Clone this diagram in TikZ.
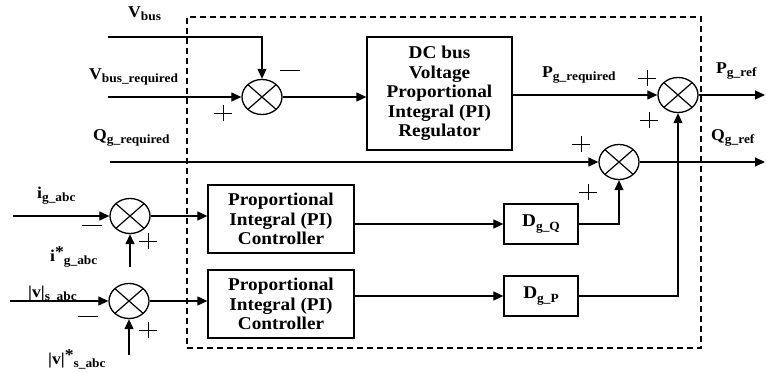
\documentclass[tikz,border=0pt]{standalone}
\usepackage{fontspec}
\setmainfont{Liberation Serif}[FakeStretch=1.07]
\usetikzlibrary{arrows.meta,shapes.geometric,calc}
\newcommand{\mainsz}{\fontsize{16.5}{18}\selectfont}
\newcommand{\subsz}{\fontsize{12.5}{14}\selectfont}
\newcommand{\boxsz}{\fontsize{18}{19.5}\selectfont}
\newcommand{\lbl}[2]{{\mainsz #1}\raisebox{-3.5pt}{\subsz #2}}
\newcommand{\lbls}[2]{{\mainsz #1}\raisebox{4pt}{\mainsz *}\raisebox{-3.5pt}{\subsz #2}}
\newcommand{\lblD}[2]{{\boxsz #1}\raisebox{-3.5pt}{\subsz #2}}
\tikzset{
  sig/.style={line width=1.2pt},
  arr/.style={sig,-{Triangle[length=10pt,width=9pt]}},
  blk/.style={draw,line width=1.3pt,align=center,inner sep=0pt,font=\bfseries\boxsz},
  sum/.style={ellipse,draw,line width=1.3pt,minimum width=40pt,minimum height=35pt,inner sep=0pt,
    path picture={\draw[line width=1.2pt] (path picture bounding box.north west) -- (path picture bounding box.south east)
      (path picture bounding box.north east) -- (path picture bounding box.south west);}},
  lab/.style={anchor=base west,inner sep=0pt,font=\bfseries},
  plus/.pic={\draw[line width=0.9pt] (-9,0) -- (9,0) (0,-8) -- (0,8);},
  minus/.pic={\draw[line width=0.9pt] (-10,0) -- (10,0);}
}
\begin{document}
\begin{tikzpicture}[x=1pt,y=-1pt]
\useasboundingbox (0,0) rectangle (766,372);
% frame
\node[draw,line width=1.1pt,dash pattern=on 6pt off 4pt,minimum width=514pt,minimum height=331pt,inner sep=0pt] (frame) at (444,182.5) {};
% summing junctions
\node[sum] (s1) at (262,97) {};
\node[sum] (s3) at (678,95) {};
\node[sum] (s2) at (619,162) {};
\node[sum] (s4) at (130,216) {};
\node[sum] (s5) at (129,301) {};
% blocks
\node[blk,minimum width=145pt,minimum height=113pt] (dc) at (439.5,93.5) {DC bus\\Voltage\\Proportional\\Integral (PI)\\Regulator};
\node[blk,minimum width=146pt,minimum height=68pt] (pi1) at (281,219) {Proportional\\Integral (PI)\\Controller};
\node[blk,minimum width=146pt,minimum height=68pt] (pi2) at (281,304) {Proportional\\Integral (PI)\\Controller};
\node[blk,minimum width=74pt,minimum height=40pt] (dgq) at (541,224) {\lblD{D}{g\_Q}};
\node[blk,minimum width=74pt,minimum height=40pt] (dgp) at (541,296) {\lblD{D}{g\_P}};
% free ends
\coordinate (vbusin) at (108,37);
\coordinate (vreqin) at (108,97);
\coordinate (qreqin) at (110,162);
\coordinate (iin) at (13,216);
\coordinate (istar) at (130,267);
\coordinate (vin) at (10,301);
\coordinate (vstar) at (129,355);
\coordinate (pout) at (765,95);
\coordinate (qout) at (765,162);
% connectors
\draw[arr] (vbusin) -| (s1.north);
\draw[arr] (vreqin) -- (s1.west);
\draw[arr] (s1.east) -- (s1 -| dc.west);
\draw[arr] (dc.east |- s3) -- (s3.west);
\draw[arr] (s3.east) -- (pout);
\draw[arr] (qreqin) -- (s2.west);
\draw[arr] (s2.east) -- (qout);
\draw[arr] (iin) -- (s4.west);
\draw[arr] (istar) -- (s4.south);
\draw[arr] (s4.east) -- (s4 -| pi1.west);
\draw[arr] (pi1.east |- dgq.west) -- (dgq.west);
\draw[arr] (dgq.east) -| (s2.south);
\draw[arr] (vin) -- (s5.west);
\draw[arr] (vstar) -- (s5.south);
\draw[arr] (s5.east) -- (s5 -| pi2.west);
\draw[arr] (pi2.east |- dgp.west) -- (dgp.west);
\draw[arr] (dgp.east) -| (s3.south);
% signs
\pic at (290,70) {minus};
\pic at (223,113) {plus};
\pic at (647,78) {plus};
\pic at (649,120) {plus};
\pic at (581,144) {plus};
\pic at (588,192) {plus};
\pic at (92,225) {minus};
\pic at (148,241) {plus};
\pic at (88,316) {minus};
\pic at (148,330) {plus};
% labels
\node[lab] (lvbus) at (128,17) {\lbl{V}{bus}};
\node[lab] (lvreq) at (89,79) {\lbl{V}{bus\_required}};
\node[lab] (lqreq) at (93,140) {\lbl{Q}{g\_required}};
\node[lab] (lpreq) at (542,77) {\lbl{P}{g\_required}};
\node[lab] (lpref) at (716,73) {\lbl{P}{g\_ref}};
\node[lab] (lqref) at (711,140) {\lbl{Q}{g\_ref}};
\node[lab] (li) at (37,198) {\lbl{i}{g\_abc}};
\node[lab] (listar) at (50,261) {\lbls{i}{g\_abc}};
\node[lab] (lv) at (28,297) {\lbl{|v|}{s\_abc}};
\node[lab] (lvstar) at (48,364) {\lbls{|v|}{s\_abc}};
\end{tikzpicture}
\end{document}
